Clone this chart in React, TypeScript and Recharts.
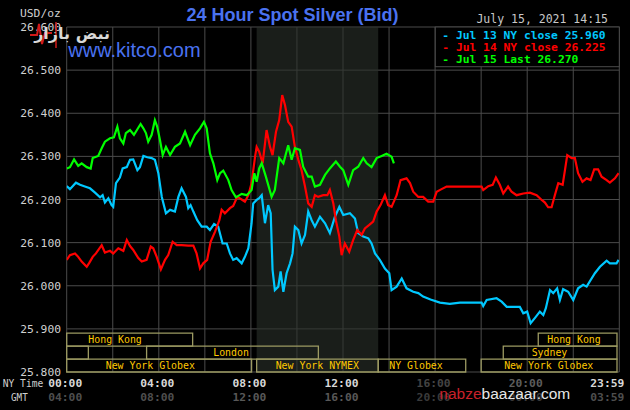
import { LineChart, Line, XAxis, YAxis, CartesianGrid, ReferenceArea } from 'recharts';

// hours since 00:00 NY time, price in USD/oz
const jul13: [number, number][] = [
  [0, 26.231], [0.14, 26.224], [0.4, 26.239], [0.58, 26.234], [0.79, 26.23], [1.01, 26.226], [1.23, 26.216], [1.45, 26.205],
  [1.56, 26.21], [1.66, 26.193], [1.81, 26.203], [1.95, 26.187], [2.02, 26.183], [2.14, 26.238], [2.31, 26.251], [2.43, 26.272],
  [2.61, 26.275], [2.75, 26.292], [2.89, 26.293], [3.07, 26.268], [3.18, 26.275], [3.33, 26.301], [3.5, 26.298], [3.69, 26.296],
  [3.83, 26.292], [3.98, 26.261], [4.13, 26.206], [4.31, 26.168], [4.49, 26.176], [4.7, 26.172], [4.85, 26.206], [4.99, 26.226],
  [5.18, 26.206], [5.28, 26.18], [5.38, 26.187], [5.5, 26.172], [5.67, 26.152], [5.86, 26.137], [6.08, 26.137], [6.22, 26.129],
  [6.4, 26.143], [6.58, 26.137], [6.77, 26.098], [6.95, 26.098], [7.09, 26.075], [7.23, 26.06], [7.38, 26.064], [7.6, 26.052],
  [7.74, 26.067], [7.89, 26.087], [8.03, 26.145], [8.1, 26.191], [8.25, 26.199], [8.36, 26.203], [8.47, 26.21], [8.61, 26.145],
  [8.75, 26.187], [8.86, 26.168], [8.94, 26.037], [9.04, 25.99], [9.19, 25.998], [9.29, 26.033], [9.41, 25.986], [9.55, 26.029],
  [9.7, 26.052], [9.81, 26.075], [9.91, 26.137], [10.06, 26.129], [10.2, 26.098], [10.35, 26.118], [10.49, 26.172], [10.64, 26.152],
  [10.78, 26.137], [11.0, 26.16], [11.22, 26.145], [11.43, 26.122], [11.65, 26.16], [11.84, 26.183], [12.01, 26.164], [12.3, 26.168],
  [12.52, 26.156], [12.66, 26.122], [12.88, 26.114], [13.1, 26.11], [13.24, 26.098], [13.39, 26.075], [13.6, 26.06], [13.82, 26.04],
  [14.01, 26.029], [14.11, 25.99], [14.33, 25.998], [14.55, 26.017], [14.76, 25.994], [15.05, 25.986], [15.27, 25.983], [15.48, 25.975],
  [15.8, 25.968], [16.21, 25.961], [16.64, 25.958], [17.08, 25.961], [18.02, 25.961], [18.09, 25.953], [18.24, 25.967], [18.67, 25.971],
  [18.89, 25.963], [19.11, 25.951], [19.68, 25.951], [19.83, 25.936], [20.0, 25.94], [20.15, 25.913], [20.33, 25.925], [20.55, 25.94],
  [20.7, 25.932], [20.81, 25.948], [20.99, 25.99], [21.13, 25.983], [21.3, 25.994], [21.42, 25.967], [21.56, 25.992], [21.78, 25.986],
  [22.0, 25.967], [22.21, 25.994], [22.43, 26.002], [22.58, 25.998], [22.94, 26.029], [23.16, 26.044], [23.45, 26.058], [23.59, 26.052],
  [23.88, 26.052], [23.97, 26.06],
];

const jul14: [number, number][] = [
  [0, 26.06], [0.14, 26.071], [0.36, 26.075], [0.5, 26.067], [0.65, 26.056], [0.87, 26.044], [0.98, 26.053], [1.13, 26.067],
  [1.27, 26.075], [1.52, 26.094], [1.66, 26.077], [1.88, 26.081], [2.02, 26.075], [2.24, 26.087], [2.46, 26.081], [2.61, 26.106],
  [2.75, 26.092], [2.89, 26.083], [3.11, 26.064], [3.26, 26.056], [3.47, 26.06], [3.65, 26.091], [3.76, 26.087], [3.91, 26.067],
  [4.09, 26.038], [4.27, 26.06], [4.41, 26.071], [4.6, 26.102], [4.78, 26.094], [4.99, 26.094], [5.28, 26.093], [5.5, 26.093],
  [5.64, 26.075], [5.79, 26.04], [5.93, 26.052], [6.1, 26.06], [6.25, 26.102], [6.44, 26.125], [6.63, 26.152], [6.73, 26.176],
  [6.87, 26.168], [7.09, 26.18], [7.23, 26.185], [7.41, 26.206], [7.6, 26.2], [7.74, 26.195], [7.89, 26.21], [8.03, 26.238],
  [8.18, 26.299], [8.25, 26.322], [8.36, 26.311], [8.51, 26.284], [8.68, 26.361], [8.83, 26.322], [8.94, 26.303], [9.09, 26.357],
  [9.23, 26.384], [9.36, 26.442], [9.48, 26.419], [9.62, 26.38], [9.77, 26.369], [9.91, 26.322], [10.06, 26.292], [10.2, 26.268],
  [10.35, 26.23], [10.49, 26.191], [10.64, 26.183], [10.78, 26.21], [10.92, 26.206], [11.14, 26.21], [11.32, 26.21], [11.43, 26.222],
  [11.58, 26.191], [11.69, 26.152], [11.84, 26.114], [11.94, 26.071], [12.08, 26.098], [12.27, 26.079], [12.44, 26.106], [12.62, 26.129],
  [12.81, 26.118], [12.95, 26.133], [13.14, 26.141], [13.31, 26.149], [13.46, 26.172], [13.63, 26.187], [13.82, 26.21], [13.96, 26.187],
  [14.11, 26.183], [14.33, 26.21], [14.5, 26.245], [14.76, 26.249], [14.91, 26.238], [15.05, 26.218], [15.27, 26.206], [15.48, 26.206],
  [15.7, 26.195], [15.92, 26.195], [16.07, 26.218], [16.28, 26.224], [16.5, 26.23], [16.64, 26.23], [18.02, 26.23], [18.09, 26.222],
  [18.31, 26.231], [18.5, 26.234], [18.64, 26.251], [18.81, 26.234], [18.96, 26.214], [19.17, 26.23], [19.32, 26.218], [19.54, 26.21],
  [19.83, 26.214], [20.12, 26.216], [20.41, 26.21], [20.63, 26.199], [20.77, 26.193], [20.91, 26.182], [21.06, 26.182], [21.2, 26.21],
  [21.35, 26.238], [21.54, 26.234], [21.64, 26.268], [21.74, 26.303], [21.93, 26.296], [22.07, 26.296], [22.21, 26.261], [22.4, 26.241],
  [22.58, 26.249], [22.75, 26.245], [22.91, 26.27], [23.08, 26.27], [23.23, 26.253], [23.45, 26.245], [23.59, 26.239], [23.81, 26.249],
  [23.97, 26.261],
];

const jul15: [number, number][] = [
  [0, 26.272], [0.14, 26.275], [0.32, 26.293], [0.5, 26.278], [0.65, 26.284], [0.87, 26.275], [1.04, 26.272], [1.13, 26.296],
  [1.37, 26.301], [1.52, 26.319], [1.66, 26.334], [1.88, 26.342], [2.05, 26.344], [2.2, 26.369], [2.31, 26.342], [2.46, 26.33],
  [2.57, 26.354], [2.75, 26.361], [2.92, 26.35], [3.07, 26.363], [3.21, 26.375], [3.33, 26.365], [3.44, 26.354], [3.54, 26.334],
  [3.69, 26.35], [3.83, 26.384], [3.93, 26.369], [4.05, 26.338], [4.17, 26.303], [4.31, 26.322], [4.49, 26.303], [4.7, 26.322],
  [4.92, 26.33], [5.14, 26.357], [5.36, 26.326], [5.57, 26.35], [5.79, 26.365], [5.96, 26.38], [6.08, 26.365], [6.22, 26.307],
  [6.37, 26.284], [6.54, 26.245], [6.66, 26.261], [6.8, 26.267], [7.02, 26.245], [7.16, 26.222], [7.35, 26.205], [7.6, 26.213],
  [7.82, 26.21], [8.03, 26.222], [8.15, 26.261], [8.25, 26.241], [8.36, 26.272], [8.47, 26.284], [8.65, 26.253], [8.9, 26.206],
  [9.04, 26.222], [9.23, 26.296], [9.41, 26.284], [9.62, 26.326], [9.77, 26.292], [9.91, 26.319], [10.13, 26.315], [10.27, 26.276],
  [10.49, 26.253], [10.64, 26.253], [10.78, 26.23], [11.0, 26.234], [11.22, 26.257], [11.43, 26.272], [11.69, 26.288], [11.87, 26.276],
  [12.01, 26.268], [12.23, 26.234], [12.44, 26.268], [12.66, 26.276], [12.88, 26.296], [13.03, 26.284], [13.24, 26.275], [13.46, 26.296],
  [13.68, 26.301], [13.89, 26.306], [14.11, 26.299], [14.21, 26.284],
];

const series = [
  { key: 'jul13', label: 'Jul 13 NY close 25.960', color: '#00c8ff', points: jul13 },
  { key: 'jul14', label: 'Jul 14 NY close 26.225', color: '#ff0000', points: jul14 },
  { key: 'jul15', label: 'Jul 15 Last 26.270', color: '#00ff00', points: jul15 },
];

const priceTicks = [25.8, 25.9, 26.0, 26.1, 26.2, 26.3, 26.4, 26.5, 26.6];
const hourTicks = [0, 2, 4, 6, 8, 10, 12, 14, 16, 18, 20, 22, 24];
const nyTimeLabels: Record<number, string> = { 0: '00:00', 4: '04:00', 8: '08:00', 12: '12:00', 16: '16:00', 20: '20:00', 24: '23:59' };
const gmtLabels: Record<number, string> = { 0: '04:00', 4: '08:00', 8: '12:00', 12: '16:00', 16: '20:00', 20: '00:00', 24: '03:59' };

// trading sessions: hours NY time, row 0 = top
const sessions = [
  { name: 'Hong Kong', from: 0, to: 5.47, row: 0 },
  { name: '', from: 0, to: 0.94, row: 1 },
  { name: 'London', from: 3.47, to: 10.93, row: 1 },
  { name: 'New York Globex', from: 0, to: 8.03, row: 2 },
  { name: 'New York NYMEX', from: 8.25, to: 13.53, row: 2 },
  { name: 'NY Globex', from: 13.53, to: 17.33, row: 2 },
  { name: 'New York Globex', from: 18.0, to: 23.9, row: 2 },
  { name: 'Sydney', from: 18.96, to: 23.9, row: 1 },
  { name: 'Hong Kong', from: 20.48, to: 23.9, row: 0 },
];
const sessionRows = [[25.86, 25.89], [25.83, 25.86], [25.8, 25.83]];
const comexHours = [8.25, 13.53];

const labelDx = [21.6, 0, 66.6, 39, 19, 11, 23, 28.4, 9];
const nyColor: Record<number, string> = { 0: '#d8d8d8', 4: '#d8d8d8', 8: '#d8d8d8', 12: '#d8d8d8', 16: '#444', 20: '#5c5c5c', 24: '#d8d8d8' };
const gmtColor: Record<number, string> = { 0: '#4e4e4e', 4: '#4e4e4e', 8: '#585858', 12: '#585858', 16: '#3a3a3a', 20: '#3a3a3a', 24: '#4e4e4e' };

const MONO = '"DejaVu Sans Mono", monospace';
const SANS = '"Liberation Sans", Arial, sans-serif';
const BLUE = '#4a72f0';
const GRID = '#4b4b4b';

const TimeTick = (props: any) => {
  const { x, y, payload } = props;
  const v = payload.value;
  if (nyTimeLabels[v] === undefined) return <g />;
  const last = v === 24;
  const tx = last ? x + 5 : x - 1.5;
  const anchor = last ? 'end' : 'middle';
  return (
    <g>
      <text x={tx} y={y + 15} textAnchor={anchor} fill={nyColor[v]} fontSize={11.3} fontWeight="bold" fontFamily={MONO}>{nyTimeLabels[v]}</text>
      <text x={tx} y={y + 29} textAnchor={anchor} fill={gmtColor[v]} fontSize={11.3} fontWeight="bold" fontFamily={MONO}>{gmtLabels[v]}</text>
    </g>
  );
};

const sessionLabel = (text: string, dx: number) => (props: any) => {
  const { x, y, height } = props.viewBox;
  return (
    <text x={x + dx} y={y + height / 2} dy="0.37em" fill="#ffc800" fontSize={9.9} fontFamily={MONO}>{text}</text>
  );
};

export default function App() {
  return (
    <div style={{ position: 'absolute', left: 0, top: 0, width: 630, height: 410, background: '#000', overflow: 'hidden' }}>
      <LineChart width={630} height={410} margin={{ top: 27, right: 10.7, bottom: 0, left: 0 }}>
        <ReferenceArea x1={comexHours[0]} x2={comexHours[1]} y1={25.8} y2={26.6} fill="#2a302a" fillOpacity={0.62} stroke="none" />
        <CartesianGrid stroke={GRID} strokeWidth={1} />
        <XAxis type="number" dataKey="t" domain={[0, 24]} ticks={hourTicks} interval={0} height={38}
          axisLine={false} tickLine={false} tickSize={0} tickMargin={0} tick={<TimeTick />} allowDataOverflow />
        <YAxis type="number" domain={[25.8, 26.6]} ticks={priceTicks} interval={0} width={66.7}
          axisLine={false} tickLine={false} tickSize={0} tickMargin={5.7} allowDataOverflow
          tickFormatter={(v: number) => v.toFixed(3)}
          tick={{ fill: '#d0d0d0', fontSize: 11.3, fontFamily: MONO }} />
        {sessions.map((s, i) => (
          <ReferenceArea key={i} x1={s.from} x2={s.to} y1={sessionRows[s.row][0]} y2={sessionRows[s.row][1]}
            fill="none" stroke="#9c9a62" strokeWidth={1.3} label={sessionLabel(s.name, labelDx[i])} />
        ))}
        {series.map((s) => (
          <Line key={s.key} data={s.points.map(([t, v]) => ({ t, v }))} dataKey="v" type="linear"
            stroke={s.color} strokeWidth={2.2} dot={false} isAnimationActive={false} />
        ))}
      </LineChart>

      <svg width={630} height={410} style={{ position: 'absolute', left: 0, top: 0, pointerEvents: 'none' }}>
        <text x={20} y={17} fill="#cfcfcf" fontSize={11.3} fontFamily={MONO}>USD/oz</text>
        <text x={186.5} y={20.7} fill={BLUE} fontSize={18} fontWeight="bold" fontFamily={SANS}>24 Hour Spot Silver (Bid)</text>
        <text x={68.3} y={56.7} fill={BLUE} fontSize={20} fontFamily={SANS}>www.kitco.com</text>
        <text x={608} y={23.3} textAnchor="end" fill="#c8c8c8" fontSize={11.5} fontFamily={MONO}>July 15, 2021 14:15</text>

        <rect x={435.3} y={27} width={184} height={39.7} fill="#000" stroke={GRID} strokeWidth={1} />
        {series.map((s, i) => (
          <text key={s.key} x={442.3} y={38.5 + i * 12.4} fill={s.color} fontSize={11.3} fontWeight="bold" fontFamily={MONO}>
            {'- ' + s.label}
          </text>
        ))}

        <text x={2.7} y={387} fill="#cfcfcf" fontSize={10.5} fontFamily={MONO} textLength={40.6} lengthAdjust="spacingAndGlyphs">NY Time</text>
        <text x={11} y={401} fill="#cfcfcf" fontSize={10.5} fontFamily={MONO} textLength={16.7} lengthAdjust="spacingAndGlyphs">GMT</text>

        {/* watermarks */}
        <polyline points="30,35 37,35 39,24 42,44 45,33 52,33" fill="none" stroke="#d01a1a" strokeWidth={2} />
        <line x1={56} y1={22} x2={56} y2={48} stroke="#d01a1a" strokeWidth={1.5} />
        <text x={110} y={39} textAnchor="end" fill="#d8d8d8" fontSize={16} fontWeight="bold" fontFamily='"DejaVu Sans", sans-serif'>نبض بازار</text>
        <text x={439.3} y={399.3} fontSize={15.5} fontFamily={SANS}>
          <tspan fill="#c8202a">nabze</tspan>
          <tspan fill="#e6e6e6">baazaar.com</tspan>
        </text>
      </svg>
    </div>
  );
}
